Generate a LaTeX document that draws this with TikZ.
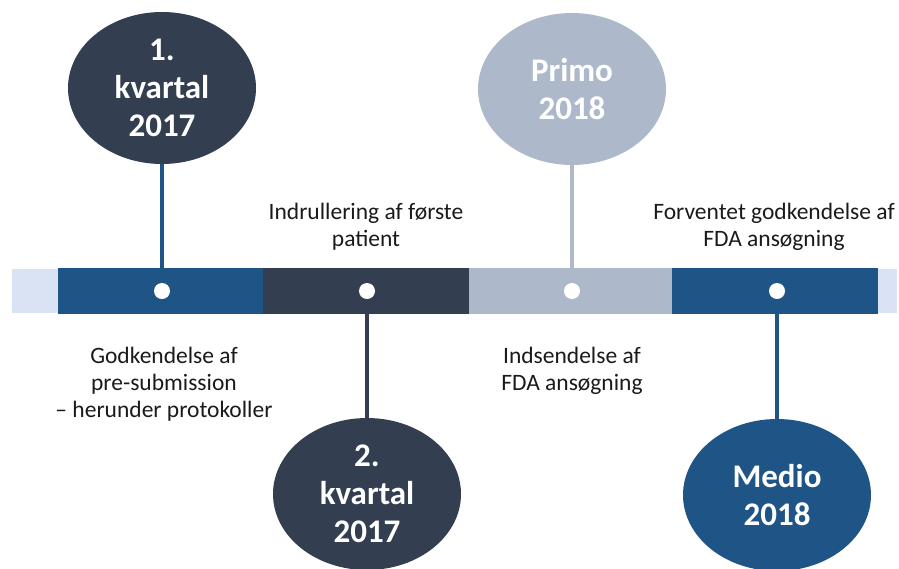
\documentclass[tikz,border=0pt]{standalone}
\usepackage{fontspec}
\setmainfont{Carlito}
\usetikzlibrary{shapes.geometric}
\definecolor{cblue}{HTML}{1F5486}
\definecolor{cnavy}{HTML}{333F50}
\definecolor{cgrey}{HTML}{ADB9CA}
\definecolor{clight}{HTML}{DAE3F3}
\definecolor{ctext}{HTML}{1A1A1A}
\begin{document}
\begin{tikzpicture}[x=1pt,y=-1pt,
  bubble/.style={ellipse, minimum width=188pt, minimum height=152pt, inner sep=0pt,
    text=white, align=center, font=\fontsize{33}{38}\selectfont\bfseries},
  dot/.style={circle, fill=white, minimum size=16pt, inner sep=0pt},
  stem/.style={line width=4.5pt},
  desc/.style={align=center, font=\fontsize{23.5}{27}\selectfont, inner sep=0pt,
    anchor=north, text=ctext}]
\useasboundingbox (0,0) rectangle (899,568);
% bar
\fill[clight] (12,269) rectangle (58,313);
\fill[cblue] (58,268) rectangle (263,314);
\fill[cnavy] (263,268) rectangle (469,314);
\fill[cgrey] (469,268) rectangle (672,314);
\fill[cblue] (672,268) rectangle (878,314);
\fill[clight] (878,269) rectangle (897,313);
% dots
\node[dot] (d1) at (162,291) {};
\node[dot] (d2) at (367,291) {};
\node[dot] (d3) at (572,291) {};
\node[dot] (d4) at (777,291) {};
% bubbles
\node[bubble, fill=cnavy] (e1) at (162,88) {1.\\kvartal\\2017};
\node[bubble, fill=cgrey] (e3) at (572,89) {Primo\\2018};
\node[bubble, fill=cnavy] (e2) at (367,494) {2.\\kvartal\\2017};
\node[bubble, fill=cblue] (e4) at (777,495) {Medio\\2018};
% stems
\draw[stem, cblue] (e1.south) -- (d1.north);
\draw[stem, cgrey] (e3.south) -- (d3.north);
\draw[stem, cnavy] (d2.south) -- (e2.north);
\draw[stem, cblue] (d4.south) -- (e4.north);
% texts
\node[desc] (t1) at (366,203) {Indrullering af første\\patient};
\node[desc] (t2) at (774,203) {Forventet godkendelse af\\FDA ansøgning};
\node[desc] (t3) at (164,347) {Godkendelse af\\pre-submission\\– herunder protokoller};
\node[desc] (t4) at (572,347) {Indsendelse af\\FDA ansøgning};
\end{tikzpicture}
\end{document}
